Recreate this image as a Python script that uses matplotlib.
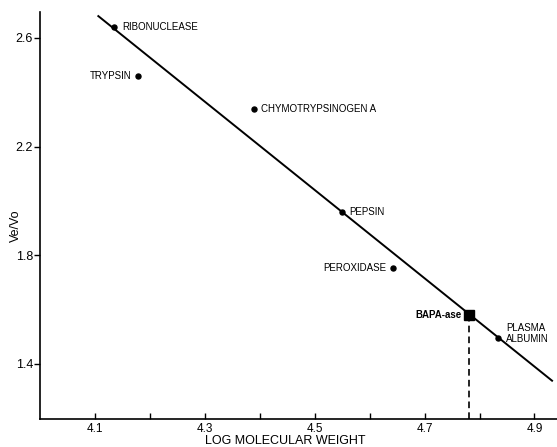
import numpy as np
import matplotlib
matplotlib.use('Agg')
import matplotlib.pyplot as plt

plt.rcParams['font.family'] = ['Liberation Sans', 'DejaVu Sans']

# standard proteins: log molecular weight vs Ve/Vo
proteins = ['RIBONUCLEASE', 'TRYPSIN', 'CHYMOTRYPSINOGEN A', 'PEPSIN',
            'PEROXIDASE', 'PLASMA\nALBUMIN']
log_mw = [4.135, 4.179, 4.389, 4.550, 4.643, 4.833]
ve_vo = [2.640, 2.461, 2.337, 1.959, 1.752, 1.494]

# unknown enzyme
bapa_name = 'BAPA-ase'
bapa_x = 4.78
bapa_y = 1.58

# calibration line
line_x = [4.106, 4.932]
line_y = [2.680, 1.338]

xticks = [4.1, 4.2, 4.3, 4.4, 4.5, 4.6, 4.7, 4.8, 4.9]
xticklabels = ['4.1', '', '4.3', '', '4.5', '', '4.7', '', '4.9']
yticks = [1.4, 1.8, 2.2, 2.6]
yticklabels = ['1.4', '1.8', '2.2', '2.6']

fig = plt.figure(figsize=(5.57, 4.47), dpi=100)
ax = fig.add_axes([0.072, 0.0626, 0.928, 0.9105])

ax.plot(line_x, line_y, color='black', lw=1.4, zorder=2)
ax.plot(log_mw, ve_vo, 'o', color='black', ms=3.6, zorder=3)
ax.plot([bapa_x], [bapa_y], 's', color='black', ms=6.5, zorder=3)
ax.vlines(bapa_x, 1.197, bapa_y, colors='black', linestyles=(0, (4, 2.5)), lw=1.2)

# label offsets in points (dx, ha)
offsets = [(6, 'left'), (-5, 'right'), (5, 'left'), (5, 'left'), (-5, 'right'), (6, 'left')]
for name, x, y, (dx, ha) in zip(proteins, log_mw, ve_vo, offsets):
    dy = 0
    if '\n' in name:
        dy = 3.5
    ax.annotate(name, (x, y), xytext=(dx, dy), textcoords='offset points',
                ha=ha, va='center', fontsize=7, linespacing=1.1)
ax.annotate(bapa_name, (bapa_x, bapa_y), xytext=(-5, 0), textcoords='offset points',
            ha='right', va='center', fontsize=7, fontweight='bold')

ax.set_xlim(4.0, 4.941)
ax.set_ylim(1.197, 2.695)
ax.set_xticks(xticks)
ax.set_xticklabels(xticklabels, fontsize=8.5)
ax.set_yticks(yticks)
ax.set_yticklabels(yticklabels, fontsize=9)
ax.tick_params(axis='x', direction='in', length=4, width=1, pad=3)
ax.tick_params(axis='y', direction='out', length=4, width=1, pad=1)

ax.spines['top'].set_visible(False)
ax.spines['right'].set_visible(False)
ax.spines['left'].set_linewidth(1.2)
ax.spines['bottom'].set_linewidth(1.2)

ax.set_xlabel('LOG MOLECULAR WEIGHT', fontsize=9, va='baseline')
ax.xaxis.set_label_coords(0.475, -0.0605)
ax.set_ylabel('Ve/Vo', fontsize=9)
ax.yaxis.set_label_coords(-0.035, 0.474)

fig.savefig('out.png', dpi=100)
